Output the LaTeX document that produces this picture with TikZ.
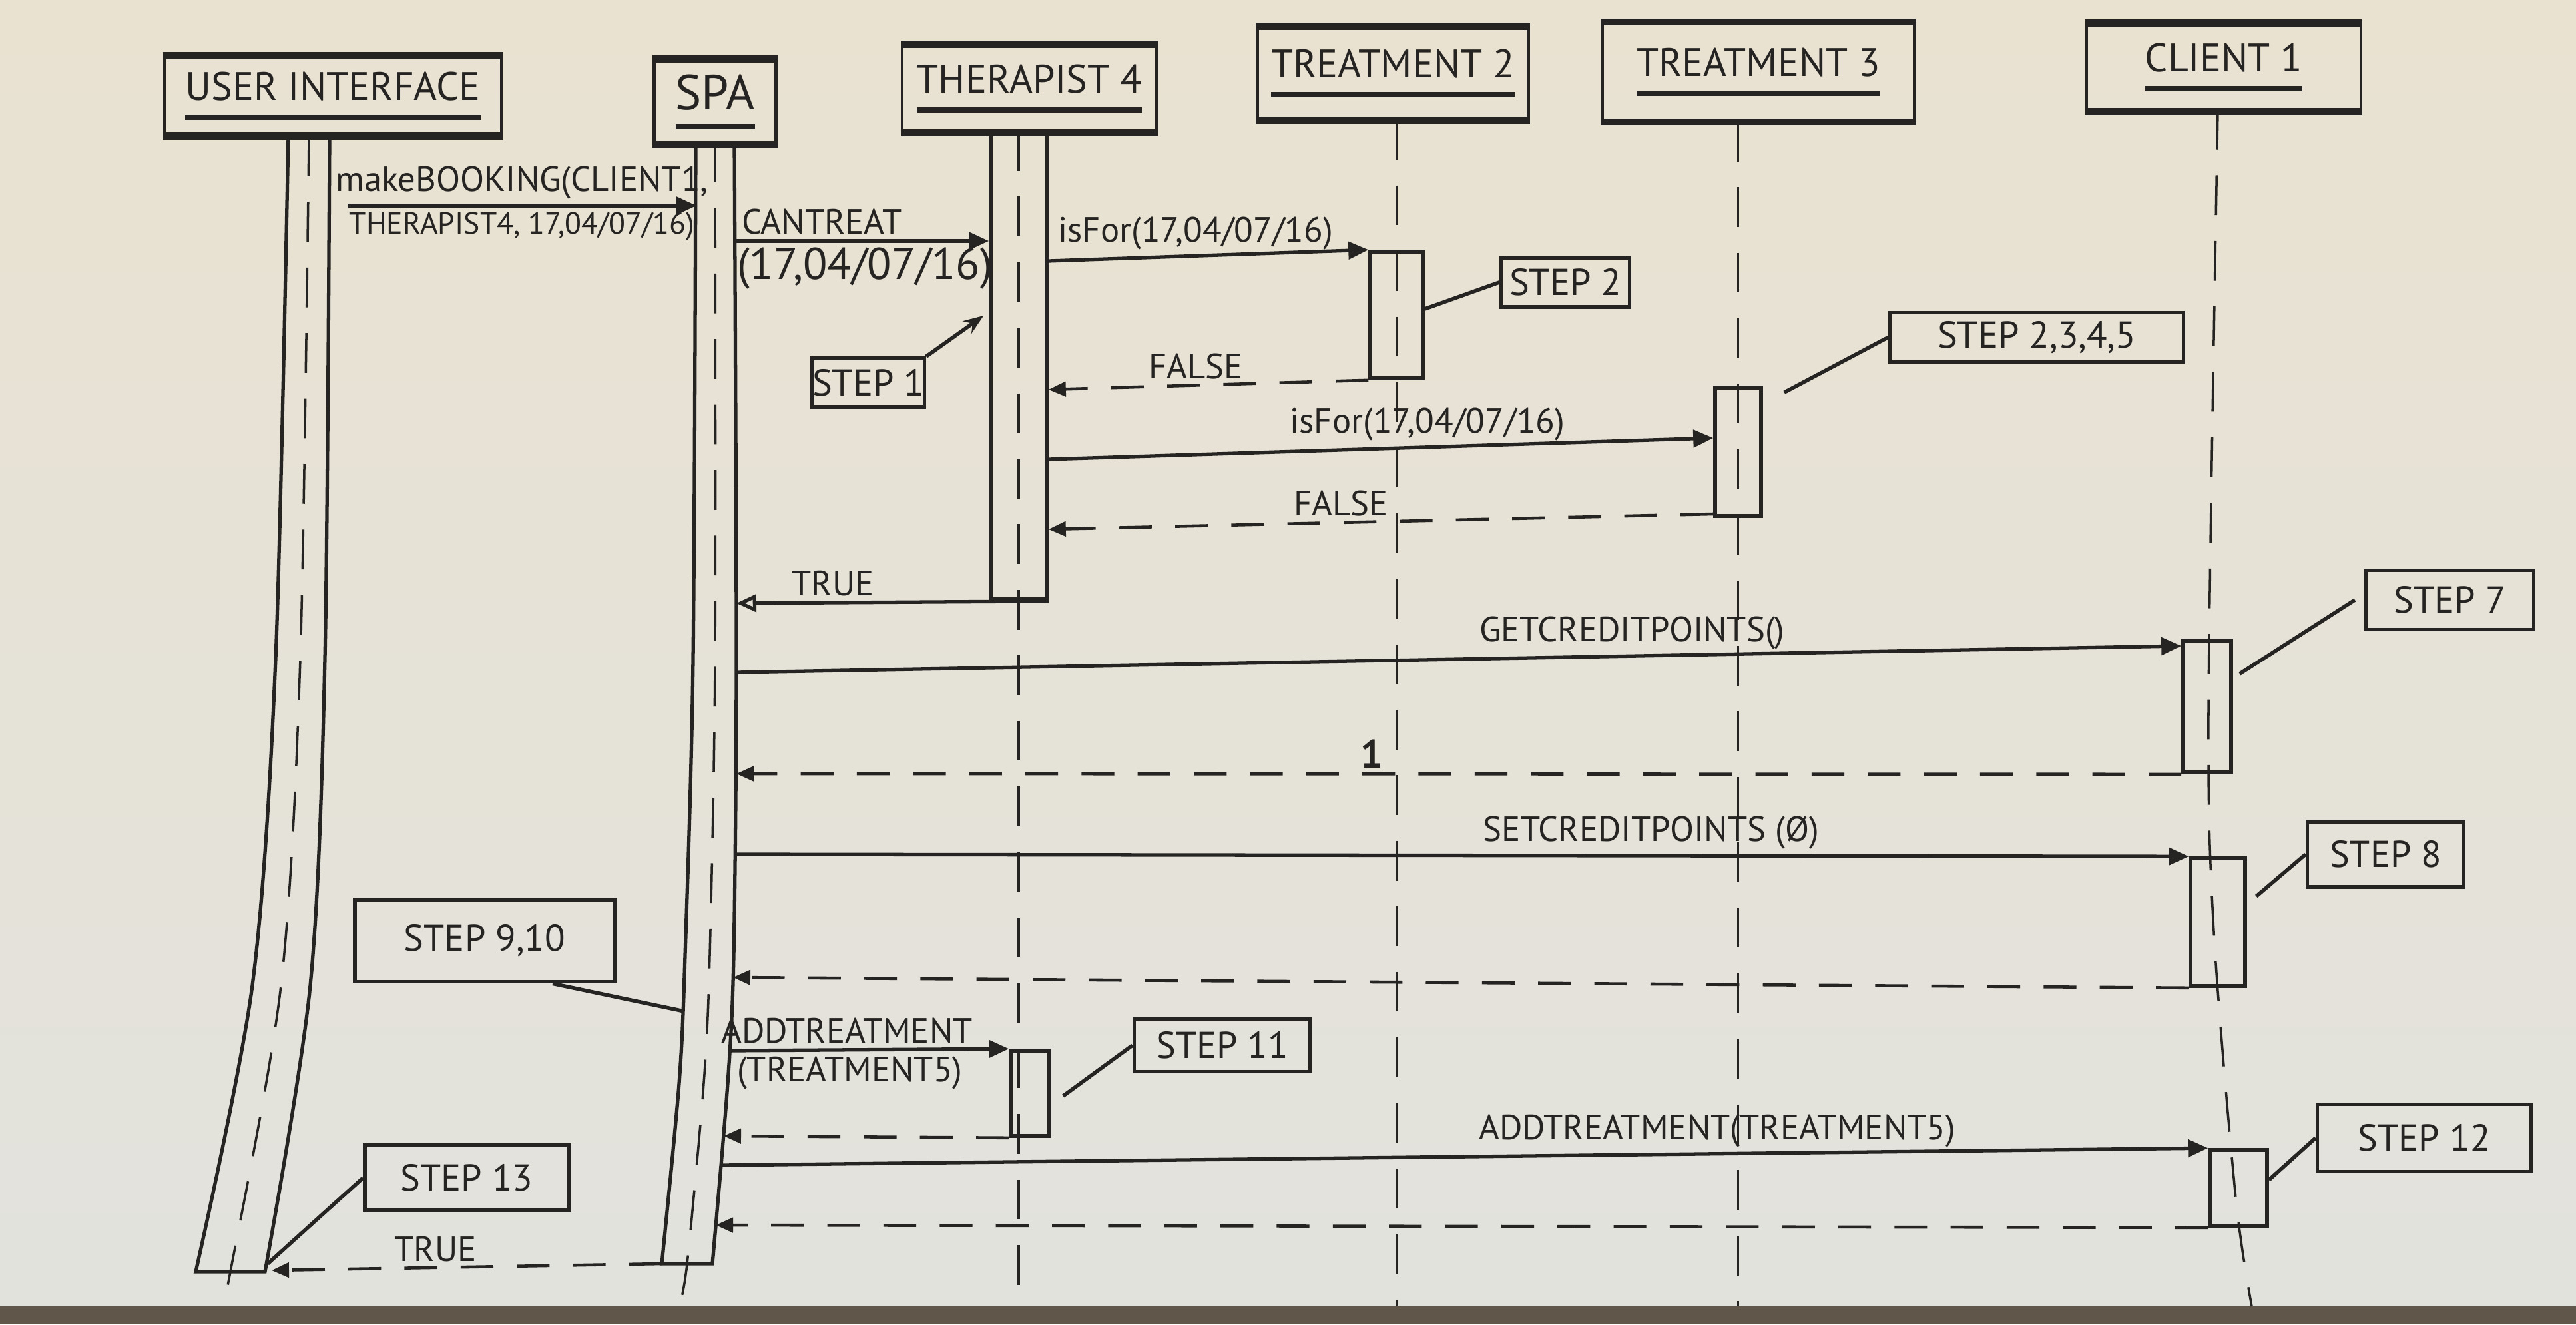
\documentclass[tikz,border=0pt]{standalone}
\usepackage{fontspec}
\setmainfont{PT Sans}
\usepackage{tikz}
\usetikzlibrary{arrows.meta, positioning, calc}
\definecolor{ink}{RGB}{38,36,34}
\definecolor{papertop}{RGB}{233,226,209}
\definecolor{paperbot}{RGB}{226,226,221}
\definecolor{tabletop}{RGB}{96,86,74}
\tikzstyle{hdr} = [rectangle, draw=ink, line width=1.3pt, inner sep=0pt, font=\fontsize{17}{19}\selectfont, text=ink]
\tikzstyle{actbar} = [rectangle, draw=ink, line width=1.6pt, inner sep=0pt]
\tikzstyle{notebox} = [rectangle, draw=ink, line width=1.6pt, inner sep=0pt, font=\fontsize{16}{18}\selectfont, text=ink]
\tikzstyle{lifeline} = [draw=ink, line width=1pt, dash pattern=on 17pt off 11pt]
\tikzstyle{msg} = [draw=ink, line width=1.5pt, -{Triangle[length=3mm,width=2.6mm]}]
\tikzstyle{reply} = [draw=ink, line width=1.3pt, dash pattern=on 14pt off 10pt, -{Triangle[length=2.6mm,width=2.2mm]}]
\tikzstyle{okreply} = [draw=ink, line width=1.5pt, -{Triangle[open,length=3mm,width=2.6mm]}]
\tikzstyle{notelink} = [draw=ink, line width=1.6pt]
\tikzstyle{lbl} = [font=\fontsize{15}{17}\selectfont, text=ink, inner sep=2pt]
\newcommand{\ulhead}[1]{\setbox0=\hbox{#1}\vbox{\copy0\kern6pt\hrule height 2.4pt width \wd0}}

\begin{document}
\begin{tikzpicture}
  % paper and table edge
  \shade[top color=papertop, bottom color=paperbot] (0,0) rectangle (38.69,-19.62);
  \fill[tabletop] (0,-19.62) rectangle (38.69,-19.89);
  \useasboundingbox (0,0) rectangle (38.69,-19.89);

  % objects
  \node[hdr, minimum width=5.06cm, minimum height=1.16cm] (ui) at (5.00,-1.44) {\ulhead{USER INTERFACE}};
  \node[hdr, minimum width=1.83cm, minimum height=1.24cm, font=\fontsize{21}{23}\selectfont] (spa) at (10.74,-1.53) {\ulhead{SPA}};
  \node[hdr, minimum width=3.82cm, minimum height=1.28cm] (th4) at (15.46,-1.33) {\ulhead{THERAPIST 4}};
  \node[hdr, minimum width=4.07cm, minimum height=1.36cm] (tr2) at (20.92,-1.10) {\ulhead{TREATMENT 2}};
  \node[hdr, minimum width=4.69cm, minimum height=1.45cm] (tr3) at (26.41,-1.08) {\ulhead{TREATMENT 3}};
  \node[hdr, minimum width=4.12cm, minimum height=1.28cm] (cl1) at (33.40,-1.01) {\ulhead{CLIENT 1}};
  \foreach \h in {ui,spa,th4,tr2,tr3,cl1}
    \draw[ink, line width=3pt] (\h.north west) -- (\h.north east) (\h.south west) -- (\h.south east);

  % user interface and spa bars (bent by the photo)
  \draw[ink, line width=1.5pt] plot[smooth] coordinates {(4.33,-2.05) (4.14,-9.89) (3.79,-14.8) (2.94,-19.10)}
    -- plot[smooth] coordinates {(3.98,-19.10) (4.66,-14.8) (4.88,-9.89) (4.95,-2.05)};
  \draw[lifeline] plot[smooth] coordinates {(4.64,-2.05) (4.51,-9.89) (4.22,-14.8) (3.46,-19.10) (3.32,-19.62)};
  \draw[ink, line width=1.5pt] plot[smooth] coordinates {(10.45,-2.14) (10.41,-9.89) (10.29,-14.35) (10.20,-16.27) (9.94,-18.98)}
    -- plot[smooth] coordinates {(10.70,-18.98) (10.93,-16.27) (11.02,-14.35) (11.06,-9.89) (11.03,-2.14)};
  \draw[lifeline] plot[smooth] coordinates {(10.74,-2.14) (10.74,-9.89) (10.66,-14.35) (10.57,-16.27) (10.32,-18.98) (10.20,-19.62)};

  \coordinate (uiOut) at (5.22,-3.09);
  \coordinate (uiIn) at (4.08,-19.08);
  \coordinate (uiNote) at (4.02,-18.98);
  \coordinate (spaIn) at (10.46,-3.09);
  \coordinate (spaOut) at (9.94,-18.98);
  \coordinate (spaNote) at (10.28,-15.19);
  \foreach \n/\x/\y in {1/11.05/3.62, 2/11.06/9.06, 3/11.06/10.10, 4/11.06/11.62, 5/11.05/12.83,
                         6/11.01/14.68, 7/10.96/15.78, 8/10.87/17.06, 9/10.83/17.50, 10/10.75/18.40}
    \coordinate (spa\n) at (\x,-\y);

  % lifelines
  \draw[lifeline] (15.30,-1.97) -- (15.30,-19.62);
  \draw[lifeline] (tr2.south -| 20.975,0) -- (20.975,-19.62);
  \draw[lifeline] (tr3.south -| 26.105,0) -- (26.105,-19.62);
  \draw[lifeline] plot[smooth] coordinates {(33.31,-1.65) (33.17,-10.6) (33.25,-14.0) (33.58,-18.0) (33.82,-19.62)};

  % activations
  \node[actbar, minimum width=0.84cm, minimum height=6.98cm] (th4act) at (15.30,-5.51) {};
  \node[actbar, minimum width=0.79cm, minimum height=1.90cm] (tr2act) at (20.975,-4.73) {};
  \node[actbar, minimum width=0.69cm, minimum height=1.93cm] (tr3act) at (26.105,-6.785) {};
  \node[actbar, minimum width=0.72cm, minimum height=1.98cm] (cl1a) at (33.15,-10.61) {};
  \node[actbar, minimum width=0.82cm, minimum height=1.92cm] (cl1b) at (33.31,-13.85) {};
  \node[actbar, minimum width=0.86cm, minimum height=1.14cm] (cl1c) at (33.62,-17.84) {};
  \node[actbar, minimum width=0.58cm, minimum height=1.28cm] (th4b) at (15.47,-16.42) {};

  % messages
  \draw[msg] (uiOut) -- node[lbl, above] {makeBOOKING(CLIENT1,} node[lbl, below, font=\fontsize{13}{15}\selectfont] {THERAPIST4, 17,04/07/16)} (spaIn);
  \draw[msg] (spa1) -- node[lbl, above, pos=0.34] {CANTREAT} node[lbl, below, pos=0.51, font=\fontsize{19}{21}\selectfont] {(17,04/07/16)} (th4act.west |- spa1);
  \draw[msg] (th4act.east |- 0,-3.92) -- node[lbl, above, pos=0.46] {isFor(17,04/07/16)} (tr2act.north west);
  \draw[reply] (tr2act.south west) -- node[lbl, above, pos=0.54] {FALSE} (th4act.east |- 0,-5.85);
  \draw[msg] (th4act.east |- 0,-6.90) -- node[lbl, above, pos=0.57] {isFor(17,04/07/16)} (tr3act.west |- 0,-6.58);
  \draw[reply] (tr3act.west |- 0,-7.72) -- node[lbl, above, pos=0.56] {FALSE} (th4act.east |- 0,-7.95);
  \draw[okreply] (th4act.south east) -- node[lbl, above, pos=0.69] {TRUE} (spa2);
  \draw[msg] (spa3) -- node[lbl, above, pos=0.62] {GETCREDITPOINTS()} (cl1a.west |- 0,-9.70);
  \draw[reply] (cl1a.south west) -- node[lbl, above, pos=0.56, font=\bfseries\fontsize{17}{19}\selectfont] {1} (spa4);
  \draw[msg] (spa5) -- node[lbl, above, pos=0.63] {SETCREDITPOINTS (Ø)} (cl1b.north west);
  \draw[reply] (cl1b.south west) -- (spa6);
  \draw[msg] (spa7) -- node[lbl, above, pos=0.42] {ADDTREATMENT} node[lbl, below, pos=0.43] {(TREATMENT5)} (th4b.north west);
  \draw[reply] (th4b.south west) -- (spa8);
  \draw[msg] (spa9) -- node[lbl, above, pos=0.67] {ADDTREATMENT(TREATMENT5)} (cl1c.north west);
  \draw[reply] (cl1c.south west) -- (spa10);
  \draw[reply] (spaOut) -- node[lbl, above, pos=0.58] {TRUE} (uiIn);

  % step notes
  \node[notebox, minimum width=1.68cm, minimum height=0.74cm, left=0.94cm of th4act, yshift=-2.4mm] (step1) {STEP 1};
  \node[notebox, minimum width=1.93cm, minimum height=0.74cm, right=1.12cm of tr2act, yshift=4.9mm] (step2) {STEP 2};
  \node[notebox, minimum width=4.41cm, minimum height=0.74cm, right=1.88cm of tr3act, yshift=17.2mm] (step2345) {STEP 2,3,4,5};
  \node[notebox, minimum width=2.52cm, minimum height=0.89cm, right=1.97cm of cl1a, yshift=16mm] (step7) {STEP 7};
  \node[notebox, minimum width=2.35cm, minimum height=0.98cm, right=0.88cm of cl1b, yshift=10.2mm] (step8) {STEP 8};
  \node[notebox, minimum width=3.90cm, minimum height=1.23cm] (step910) at (7.28,-14.13) {STEP 9,10};
  \node[notebox, minimum width=2.64cm, minimum height=0.79cm, right=1.22cm of th4b, yshift=7.2mm] (step11) {STEP 11};
  \node[notebox, minimum width=3.21cm, minimum height=1.01cm, right=0.70cm of cl1c, yshift=7.5mm] (step12) {STEP 12};
  \node[notebox, minimum width=3.06cm, minimum height=0.98cm] (step13) at (7.01,-17.69) {STEP 13};

  \draw[notelink, -{Stealth[length=3mm]}] (step1.north east) -- ([shift={(-0.08,0.77)}]th4act.west);
  \draw[notelink] ([yshift=0.9mm]tr2act.east) -- (step2.west);
  \draw[notelink] ([shift={(0.32,-0.1)}]tr3act.north east) -- (step2345.west);
  \draw[notelink] ([shift={(0.1,0.49)}]cl1a.east) -- ([xshift=-1.4mm]step7.west);
  \draw[notelink] ([shift={(0.14,0.39)}]cl1b.east) -- (step8.west);
  \draw[notelink] ([xshift=1.02cm]step910.south) -- (spaNote);
  \draw[notelink] ([shift={(0.18,-0.04)}]th4b.east) -- (step11.west);
  \draw[notelink] ([yshift=1.2mm]cl1c.east) -- (step12.west);
  \draw[notelink] (uiNote) -- (step13.west);
\end{tikzpicture}
\end{document}
